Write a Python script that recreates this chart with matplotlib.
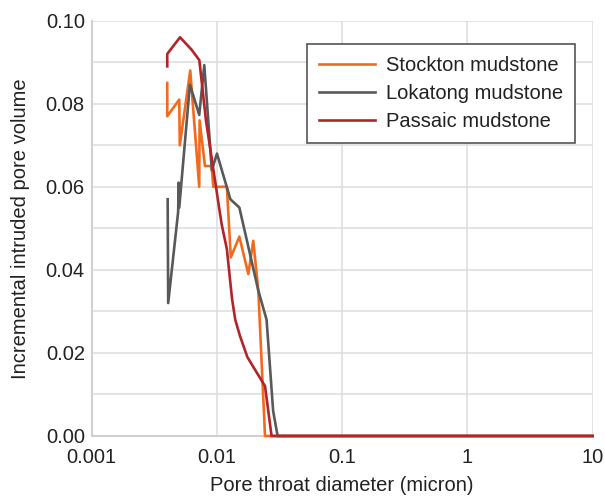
import numpy as np
import matplotlib
matplotlib.use("Agg")
import matplotlib.pyplot as plt

# pore throat diameter (micron) and incremental intruded pore volume
stockton_x = [0.00401, 0.00401, 0.00500, 0.00505, 0.00612, 0.00722, 0.00727, 0.00802,
              0.00907, 0.00934, 0.0120, 0.0129, 0.0151, 0.0178, 0.0195, 0.0214, 0.0242, 10]
stockton_y = [0.085, 0.077, 0.081, 0.070, 0.088, 0.060, 0.076, 0.065,
              0.065, 0.060, 0.060, 0.043, 0.048, 0.039, 0.047, 0.035, 0.0, 0.0]

lokatong_x = [0.00404, 0.00408, 0.00490, 0.00495, 0.00500, 0.00608, 0.00722, 0.00792,
              0.0091, 0.0100, 0.0128, 0.0151, 0.0214, 0.0249, 0.0281, 0.0305, 10]
lokatong_y = [0.057, 0.032, 0.054, 0.061, 0.055, 0.0846, 0.0773, 0.0893,
              0.064, 0.068, 0.057, 0.055, 0.035, 0.028, 0.006, 0.0, 0.0]

passaic_x = [0.00401, 0.00401, 0.00507, 0.00628, 0.00723, 0.00817, 0.00938, 0.0104,
             0.0109, 0.0120, 0.0132, 0.0140, 0.0153, 0.0175, 0.0201, 0.0242, 0.0273, 10]
passaic_y = [0.089, 0.092, 0.096, 0.093, 0.0905, 0.076, 0.064, 0.055,
             0.051, 0.045, 0.033, 0.028, 0.024, 0.019, 0.016, 0.012, 0.0, 0.0]

series_names = ["Stockton mudstone", "Lokatong mudstone", "Passaic mudstone"]
colors = ["#f26b1d", "#595959", "#b3242a"]

xticks = [0.001, 0.01, 0.1, 1, 10]
xtick_labels = ["0.001", "0.01", "0.1", "1", "10"]
yticks = [0.0, 0.02, 0.04, 0.06, 0.08, 0.10]

plt.rcParams['font.family'] = ['Liberation Sans', 'DejaVu Sans']

fig = plt.figure(figsize=(6.05, 4.96), dpi=100)
ax = fig.add_axes([0.1516, 0.121, 0.828, 0.8373])

ax.set_xscale("log")
ax.set_xlim(0.001, 10)
ax.set_ylim(0, 0.10)

# light grid: every 0.01 horizontally, every decade vertically
for v in np.arange(0.01, 0.101, 0.01):
    ax.axhline(v, color="#dddddd", lw=1.1, zorder=0)
for v in xticks[1:]:
    ax.axvline(v, color="#dddddd", lw=1.1, zorder=0)

for xs, ys, name, c in zip([stockton_x, lokatong_x, passaic_x],
                           [stockton_y, lokatong_y, passaic_y],
                           series_names, colors):
    ax.plot(xs, ys, color=c, lw=1.9, label=name, zorder=3, clip_on=False)

ax.set_xticks(xticks)
ax.set_xticklabels(xtick_labels)
ax.xaxis.set_minor_locator(matplotlib.ticker.NullLocator())
ax.set_yticks(yticks)
ax.set_yticklabels(["%.2f" % v for v in yticks])
ax.tick_params(length=0, labelsize=14.5, colors="#222222")
ax.tick_params(axis="x", pad=9)
ax.tick_params(axis="y", pad=5)

for s in ["top", "right"]:
    ax.spines[s].set_visible(False)
for s in ["left", "bottom"]:
    ax.spines[s].set_color("#d0d0d0")
    ax.spines[s].set_linewidth(1.5)

ax.set_xlabel("Pore throat diameter (micron)", fontsize=14.5, color="#222222", labelpad=6)
ax.set_ylabel("Incremental intruded pore volume", fontsize=14.5, color="#222222", labelpad=11)

leg = ax.legend(loc="upper left", bbox_to_anchor=(0.429, 0.944), fontsize=14.5,
                frameon=True, fancybox=False, framealpha=1, edgecolor="#555555",
                handlelength=2.8, handletextpad=0.55, labelspacing=0.45,
                borderpad=0.6, borderaxespad=0)
leg.get_frame().set_linewidth(1.2)
for t in leg.get_texts():
    t.set_color("#222222")

fig.savefig("out.png", dpi=100)
